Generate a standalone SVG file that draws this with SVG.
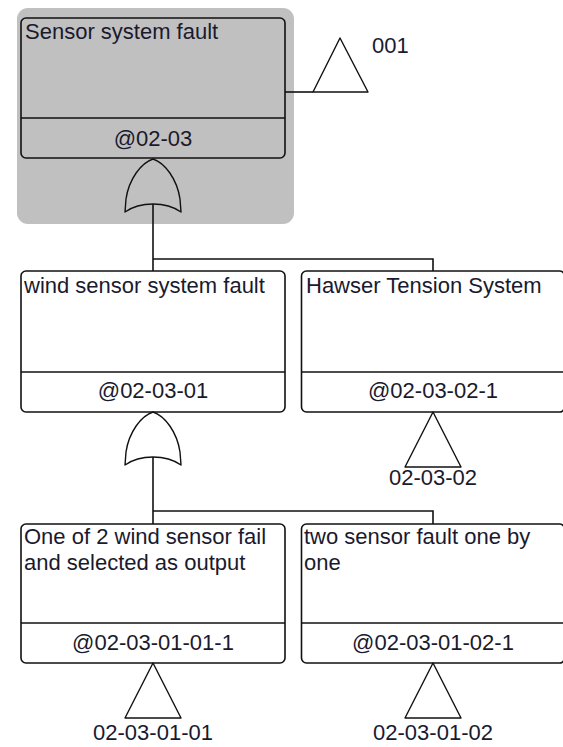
<svg xmlns="http://www.w3.org/2000/svg" width="563" height="747" viewBox="0 0 563 747">
<style>
.bg{fill:#ffffff}
.hl{fill:#c0c0c0}
.boxg{fill:#c0c0c0;stroke:#111;stroke-width:1.6}
.boxw{fill:#ffffff;stroke:#111;stroke-width:1.6}
.ln{fill:none;stroke:#111;stroke-width:1.6}
.gate{fill:none;stroke:#111;stroke-width:1.4;stroke-linejoin:round}
.t{font-family:"Liberation Sans",Arial,sans-serif;font-size:22px;fill:#1a1a2e}
.c{text-anchor:middle}
</style>
<defs>
<path id="orgate" d="M0,0 C-12,4 -24,20 -27,40 L-28,53 C-18,46 -8,45 0,45 C8,45 18,46 28,53 L27,40 C24,20 12,4 0,0 Z"/>
<path id="xfer" d="M0,0 L-28,55 L28,55 Z"/>
</defs>
<rect class="bg" x="0" y="0" width="563" height="747"/>
<rect class="hl" x="17" y="8" width="277" height="216" rx="11" ry="11"/>

<g id="connectors">
<line class="ln" x1="285" y1="92" x2="313" y2="92"/>
<polyline class="ln" points="153,204 153,271"/>
<polyline class="ln" points="153,259 433,259 433,271"/>
<polyline class="ln" points="153,457 153,524"/>
<polyline class="ln" points="153,511 433,511 433,524"/>
</g>

<g id="node-001">
<rect class="boxg" x="21" y="18" width="264" height="140" rx="5" ry="5"/>
<line class="ln" x1="21" y1="118" x2="285" y2="118"/>
<text class="t" x="25" y="39">Sensor system fault</text>
<text class="t c" x="153" y="146">@02-03</text>
<use class="gate" href="#orgate" x="153" y="159"/>
<path class="gate" d="M313,92 L340,38 L368,92 Z"/>
<text class="t" x="372" y="53">001</text>
</g>

<g id="node-02-03-01">
<rect class="boxw" x="21" y="271" width="264" height="141" rx="5" ry="5"/>
<line class="ln" x1="21" y1="372" x2="285" y2="372"/>
<text class="t" x="24" y="293">wind sensor system fault</text>
<text class="t c" x="153" y="398">@02-03-01</text>
<use class="gate" href="#orgate" x="153" y="412"/>
</g>

<g id="node-02-03-02">
<rect class="boxw" x="301.5" y="271" width="263" height="141" rx="5" ry="5"/>
<line class="ln" x1="301.5" y1="372" x2="565" y2="372"/>
<text class="t" x="306" y="293">Hawser Tension System</text>
<text class="t c" x="433" y="398">@02-03-02-1</text>
<use class="gate" href="#xfer" x="433" y="412"/>
<text class="t c" x="433" y="485">02-03-02</text>
</g>

<g id="node-02-03-01-01">
<rect class="boxw" x="21" y="524" width="264" height="139" rx="5" ry="5"/>
<line class="ln" x1="21" y1="623" x2="285" y2="623"/>
<text class="t" x="24" y="544">One of 2 wind sensor fail</text>
<text class="t" x="24" y="570">and selected as output</text>
<text class="t c" x="153" y="650">@02-03-01-01-1</text>
<use class="gate" href="#xfer" x="153" y="663"/>
<text class="t c" x="153" y="740">02-03-01-01</text>
</g>

<g id="node-02-03-01-02">
<rect class="boxw" x="301.5" y="524" width="263" height="139" rx="5" ry="5"/>
<line class="ln" x1="301.5" y1="623" x2="565" y2="623"/>
<text class="t" x="304" y="544">two sensor fault one by</text>
<text class="t" x="304" y="570">one</text>
<text class="t c" x="433" y="650">@02-03-01-02-1</text>
<use class="gate" href="#xfer" x="433" y="663"/>
<text class="t c" x="433" y="740">02-03-01-02</text>
</g>
</svg>
